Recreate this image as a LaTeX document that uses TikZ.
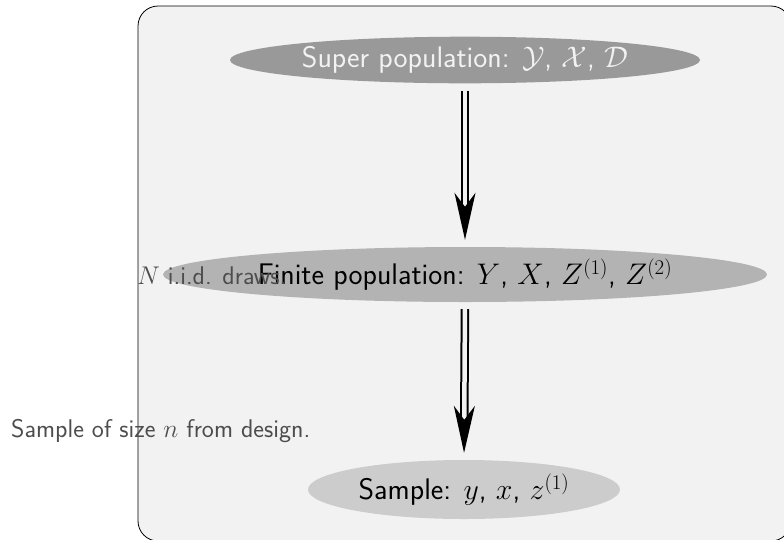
\documentclass[tikz,border=0pt]{standalone}
\usepackage{fix-cm}
\usepackage{fontspec}
\usetikzlibrary{arrows.meta,shapes.geometric}
\definecolor{bgfill}{HTML}{F2F2F2}
\definecolor{topfill}{HTML}{999999}
\definecolor{midfill}{HTML}{B3B3B3}
\definecolor{lowfill}{HTML}{CCCCCC}
\definecolor{labelgray}{HTML}{4D4D4D}
\begin{document}
\begin{tikzpicture}[x=1pt,y=-1pt,
  ell/.style={ellipse, inner sep=0pt, font=\sffamily\fontsize{29.8}{36}\selectfont},
  side/.style={anchor=base west, inner sep=0pt, text=labelgray, font=\sffamily\fontsize{25.6}{31}\selectfont},
  dbl/.style={draw=black, line width=2pt, double=bgfill, double distance=4.5pt,
    shorten <=7pt, shorten >=7pt, -{Stealth[length=47pt,width=21pt,inset=14pt]}}]
\useasboundingbox (0,0) rectangle (784,539);
\clip (0,0) rectangle (784,539);
\draw[fill=bgfill, rounded corners=20pt, line width=0.8pt] (138,6) rectangle (791,541);
\node[ell, fill=topfill, text=bgfill, minimum width=470pt, minimum height=46.6pt] (sup) at (465,60)
  {Super population: $\mathcal{Y}$, $\mathcal{X}$, $\mathcal{D}$};
\node[ell, fill=midfill, text=black, minimum width=604pt, minimum height=55pt] (fin) at (465,274.5)
  {Finite population: $Y$, $X$, $Z^{(1)}$, $Z^{(2)}$};
\node[ell, fill=lowfill, text=black, minimum width=312pt, minimum height=59pt] (sam) at (464,489.5)
  {Sample: $y$, $x$, $z^{(1)}$};
\draw[dbl] (sup.south) -- (fin.north);
\draw[dbl] (fin.south) -- (sam.north);
\node[side] (lab1) at (137,284) {$N$ i.i.d. draws.};
\node[side] (lab2) at (11,437) {Sample of size $n$ from design.};
\end{tikzpicture}
\end{document}
